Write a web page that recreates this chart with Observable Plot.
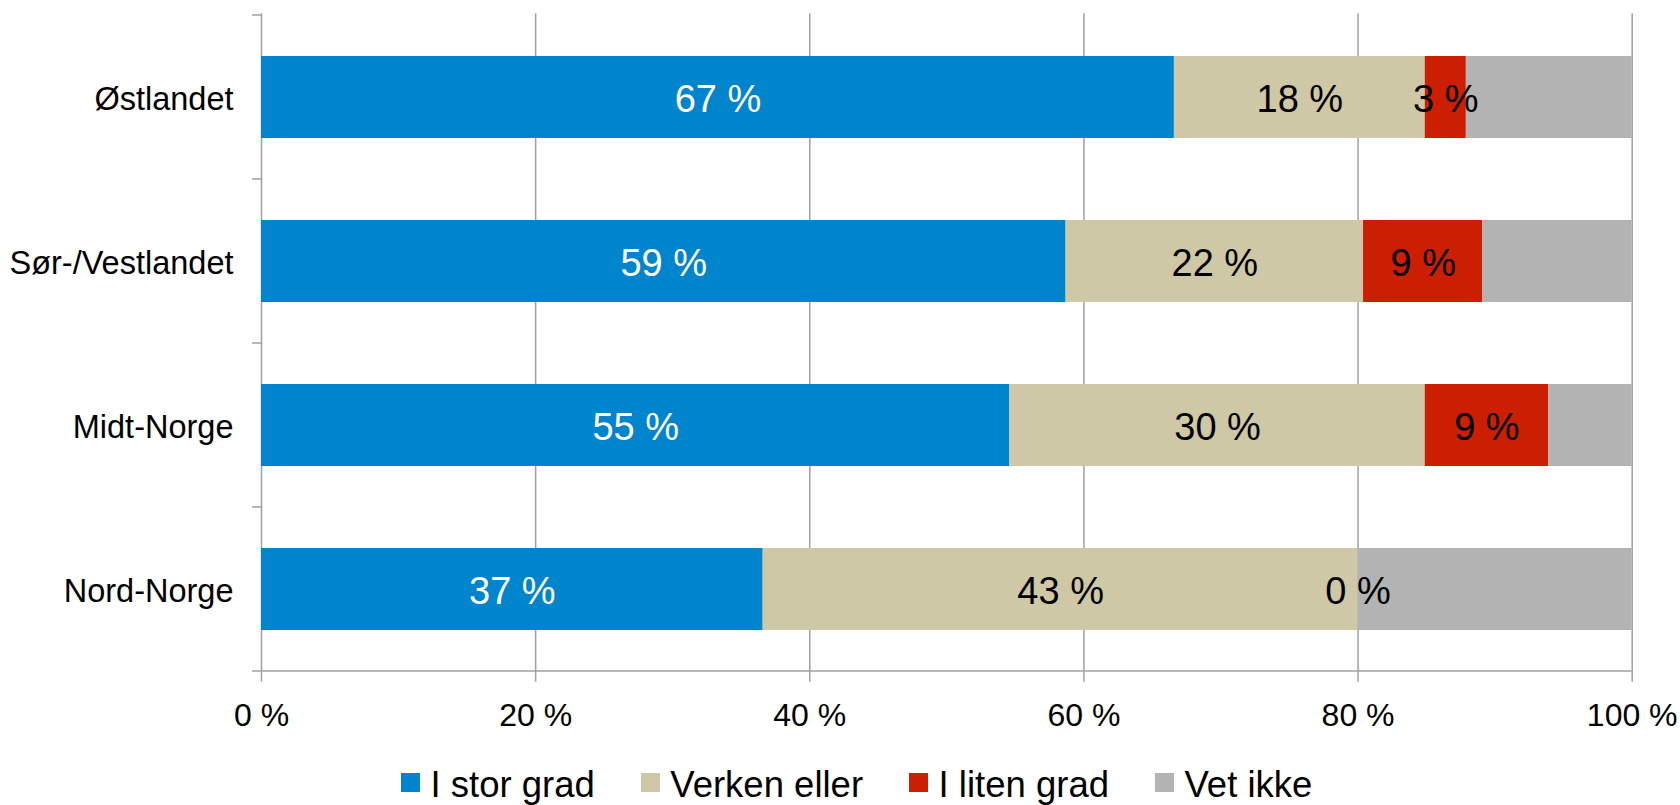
<!DOCTYPE html>
<html><head><meta charset="utf-8">
<script src="https://cdn.jsdelivr.net/npm/d3@7"></script>
<script src="https://cdn.jsdelivr.net/npm/@observablehq/plot@0.6"></script>
<style>
body{margin:0;background:#fff;font-family:"Liberation Sans",Arial,sans-serif;}
#chart{position:relative;width:1680px;height:805px;}
#chart svg{display:block}
.legend{position:absolute;top:762px;left:401px;display:flex;align-items:center;height:40px;font-size:36.5px;line-height:40px;color:#000;white-space:nowrap}
.item{display:flex;align-items:center;margin-right:46px}
.sw{width:19px;height:19px;margin-right:10.5px}
.lab{position:relative;top:3px}
</style></head><body>
<div id="chart"></div>
<script>
const regions = ["Østlandet", "Sør-/Vestlandet", "Midt-Norge", "Nord-Norge"];
const series = ["I stor grad", "Verken eller", "I liten grad", "Vet ikke"];
const colors = ["#0084cc", "#cfc8a6", "#cc1e00", "#b3b3b3"];
const iStorGrad   = [66.6, 58.7, 54.6, 36.6];
const verkenEller = [18.3, 21.7, 30.3, 43.4];
const iLitenGrad  = [3.0, 8.7, 9.0, 0];
const vetIkke     = [12.1, 10.9, 6.1, 20.0];
const xTicks = [0, 20, 40, 60, 80, 100];

const values = [iStorGrad, verkenEller, iLitenGrad, vetIkke];
const data = regions.flatMap((r, i) => series.map((s, j) => ({region: r, series: s, value: values[j][i]})));
const fmt = v => Math.round(v) + " %";
const gridColor = "#a0a0a0";

const plot = Plot.plot({
  width: 1680, height: 760,
  marginLeft: 261, marginRight: 48.3, marginTop: 13.3, marginBottom: 87.3,
  style: {fontFamily: "Liberation Sans, Arial, sans-serif", background: "#fff", color: "#000", overflow: "visible"},
  x: {domain: [0, 100]},
  y: {domain: regions, paddingInner: 0.5, paddingOuter: 0.25},
  color: {domain: series, range: colors},
  marks: [
    Plot.gridX(xTicks.slice(1), {stroke: gridColor, strokeOpacity: 1, strokeWidth: 1.5}),
    Plot.ruleX([0], {stroke: gridColor, strokeWidth: 1.5}),
    Plot.barX(data, Plot.stackX({x: "value", y: "region", z: "series", fill: "series"})),
    Plot.text(data, Plot.stackX({x: "value", y: "region", z: "series",
      text: d => d.series === "I stor grad" ? fmt(d.value) : null,
      fill: "white", fontSize: 38, dy: 2})),
    Plot.text(data, Plot.stackX({x: "value", y: "region", z: "series",
      text: d => (d.series === "Verken eller" || d.series === "I liten grad") ? fmt(d.value) : null,
      fill: "black", fontSize: 38, dy: 2})),
    Plot.axisX(xTicks, {tickFormat: d => d + " %", tickSize: 9, tickPadding: 21.5, fontSize: 32,
      stroke: gridColor, strokeWidth: 1.5, label: null}),
    Plot.axisY({tickSize: 0, tickPadding: 28, fontSize: 32.5, label: null, dy: 2})
  ]
});

// Excel-style category-boundary ticks and axis line, placed via the plot's scales
const xs = plot.scale("x"), ys = plot.scale("y");
const x0 = xs.apply(0), x100 = xs.apply(100);
const step = ys.apply(regions[1]) - ys.apply(regions[0]);
const bw = ys.bandwidth != null ? ys.bandwidth : step * 0.5;
const bounds = regions.map(r => ys.apply(r) - (step - bw) / 2);
bounds.push(bounds[bounds.length - 1] + step);
const g = d3.select(plot).append("g").attr("stroke", gridColor).attr("stroke-width", 1.5);
bounds.forEach((b, i) => {
  g.append("line").attr("x1", x0 - 9).attr("x2", i === bounds.length - 1 ? x100 : x0)
    .attr("y1", b).attr("y2", b);
});

const chart = document.getElementById("chart");
chart.appendChild(plot);

const legend = document.createElement("div");
legend.className = "legend";
series.forEach((s, i) => {
  const it = document.createElement("div");
  it.className = "item";
  const sw = document.createElement("span");
  sw.className = "sw";
  sw.style.background = colors[i];
  const lab = document.createElement("span");
  lab.className = "lab";
  lab.textContent = s;
  it.appendChild(sw); it.appendChild(lab);
  legend.appendChild(it);
});
chart.appendChild(legend);
</script>
</body></html>
